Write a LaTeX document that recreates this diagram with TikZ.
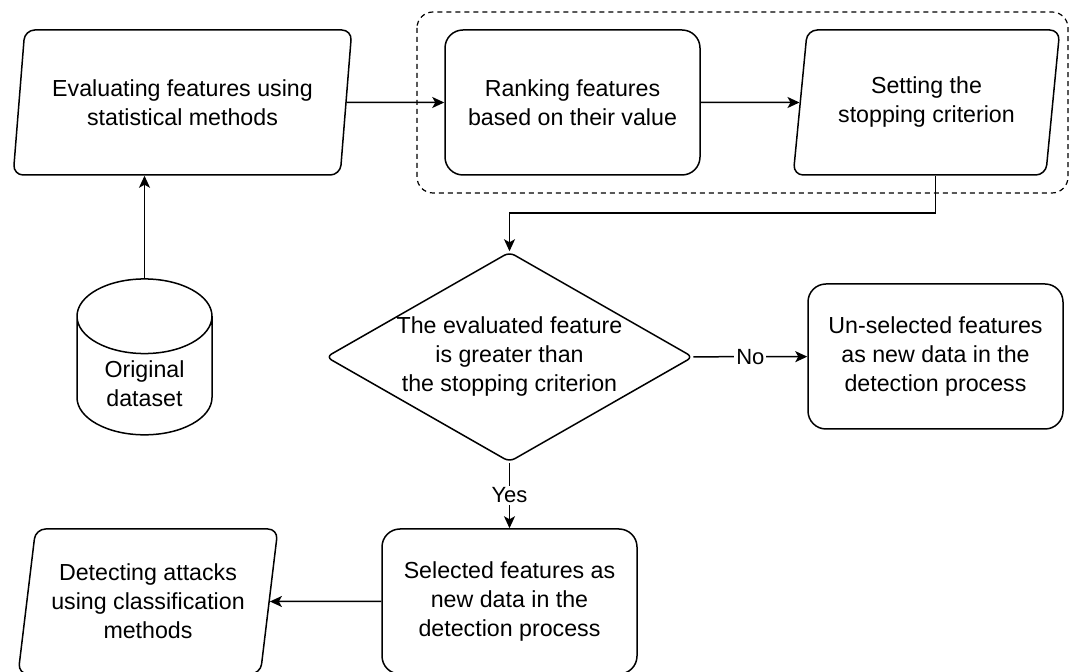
\documentclass[tikz,border=0pt]{standalone}
\usepackage{fontspec}
\setmainfont{Liberation Sans}
\usetikzlibrary{arrows.meta,shapes.geometric}
\tikzset{
  base/.style={draw=black,line width=0.75pt,fill=white,align=center,font=\fontsize{11.6}{14.5}\selectfont},
  procbox/.style={base,rectangle,rounded corners=9pt,minimum width=127.5pt,minimum height=72.5pt},
  iobox/.style={base,trapezium,trapezium left angle=79,trapezium right angle=101,
    trapezium stretches=true,rounded corners=5pt,minimum height=72.5pt,inner sep=1pt},
  decbox/.style={base,diamond,aspect=1.75,rounded corners=3pt,minimum width=183.5pt,minimum height=105pt,inner sep=-2pt},
  store/.style={base,cylinder,shape border rotate=90,aspect=0.8,minimum width=67.5pt,minimum height=72.5pt},
  groupbox/.style={draw=black,line width=0.6pt,dash pattern=on 2.5pt off 2pt,rounded corners=8pt},
  flow/.style={-{Stealth[length=6pt,width=5.5pt,inset=1.5pt]},line width=0.75pt},
  edgelabel/.style={fill=white,inner sep=1pt,font=\fontsize{11}{13}\selectfont},
}
\begin{document}
\begin{tikzpicture}[x=0.5pt,y=-0.5pt]
  \useasboundingbox (0,0) rectangle (1070,672);
  % dashed group round ranking and criterion
  \draw[groupbox] (417,12) rectangle (1068,193);
  % top row
  \node[iobox,minimum width=169.5pt] (eval) at (182.5,102.5) {Evaluating features using\\statistical methods};
  \node[procbox] (rank) at (572.5,102.5) {Ranking features\\based on their value};
  \node[iobox,minimum width=133.5pt] (crit) at (926.5,102.5) {Setting the\\stopping criterion};
  % middle row
  \node[store] (data) at (144.5,384) {Original\\dataset};
  \node[decbox] (test) at (509.5,357) {The evaluated feature\\is greater than\\the stopping criterion};
  \node[procbox] (unsel) at (935.5,356.5) {Un-selected features\\as new data in the\\detection process};
  % bottom row
  \node[procbox] (sel) at (509.5,601.5) {Selected features as\\new data in the\\detection process};
  \node[iobox,minimum width=130pt] (detect) at (148,601.5) {Detecting attacks\\using classification\\methods};
  % connectors
  \draw[flow] (data.north) -- (data.north |- eval.south);
  \draw[flow] (eval) -- (rank);
  \draw[flow] (rank) -- (crit);
  \draw[flow] ([xshift=4.5pt]crit.south) -- ++(0,37) -| (test.north);
  \draw[flow] (test) -- node[edgelabel] {No} (unsel);
  \draw[flow] (test) -- node[edgelabel] {Yes} (sel);
  \draw[flow] (sel) -- (detect);
\end{tikzpicture}
\end{document}
